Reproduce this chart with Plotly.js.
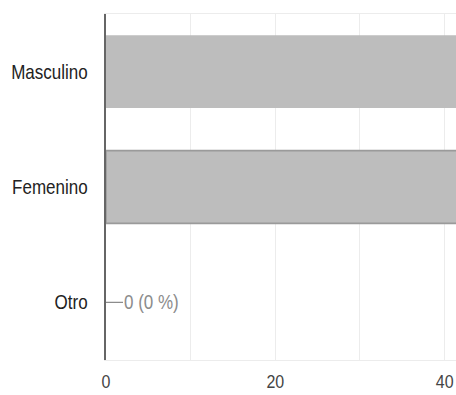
<!DOCTYPE html>
<html>
<head>
<meta charset="utf-8">
<script src="https://cdn.plot.ly/plotly-3.0.1.min.js"></script>
<style>
  html, body { margin: 0; padding: 0; background: #fff; }
  body { width: 456px; height: 395px; }
  /* the chart is laid out 340px tall and stretched to fill the 395px window */
  #chart { width: 456px; height: 340px; transform: scale(1, 1.16176); transform-origin: 0 0; }
</style>
</head>
<body>
<div id="chart"></div>
<script>
// Respuestas por género
const categories = ['Masculino', 'Femenino', 'Otro'];
const counts = [47, 45, 0];
const total = counts.reduce((a, b) => a + b, 0);
const xTickVals = [0, 20, 40];
const xTickText = ['0', '20', '40'];

const FONT = 'Arial, "Liberation Sans", sans-serif';

const bars = {
  type: 'bar',
  orientation: 'h',
  y: categories,
  x: counts,
  marker: {
    color: '#bdbdbd',
    line: {
      color: categories.map((c, i) => i === 1 ? '#9a9a9a' : '#bdbdbd'),
      width: categories.map((c, i) => i === 1 ? 1.5 : 0)
    }
  },
  hoverinfo: 'none'
};

// value labels with a short stem for the empty bars
const annotations = categories
  .map((c, i) => ({ c, v: counts[i] }))
  .filter(d => d.v === 0)
  .map(d => ({
    x: d.v, y: d.c, xref: 'x', yref: 'y',
    text: d.v + ' (' + Math.round(100 * d.v / total) + ' %)',
    showarrow: true, arrowhead: 0, arrowwidth: 1, arrowcolor: '#8c8c8c',
    ax: 17, ay: 0, xanchor: 'left', borderpad: 0, standoff: 0,
    font: { family: FONT, size: 17, color: '#8c8c8c' }
  }));

const layout = {
  width: 456, height: 340,
  margin: { l: 106, r: 0, t: 12, b: 30, pad: 0 },
  paper_bgcolor: '#ffffff', plot_bgcolor: '#ffffff',
  showlegend: false,
  bargap: 0.37,
  xaxis: {
    range: [0, 41.34],
    tickvals: xTickVals, ticktext: xTickText,
    showgrid: true, gridcolor: '#ececec', gridwidth: 1,
    minor: { dtick: 10, showgrid: true, gridcolor: '#ececec', gridwidth: 1 },
    zeroline: false,
    showline: true, linecolor: '#ececec', linewidth: 1, mirror: true,
    ticks: '', ticklabelstandoff: 4,
    tickfont: { family: FONT, size: 16, color: '#444' },
    fixedrange: true
  },
  yaxis: {
    autorange: 'reversed',
    showgrid: false, zeroline: false,
    showline: true, linecolor: '#666', linewidth: 2,
    ticks: '', ticklabelstandoff: 13,
    tickfont: { family: FONT, size: 17, color: '#222' },
    fixedrange: true
  },
  annotations: annotations
};

Plotly.newPlot('chart', [bars], layout, { displayModeBar: false, staticPlot: true });
</script>
</body>
</html>
